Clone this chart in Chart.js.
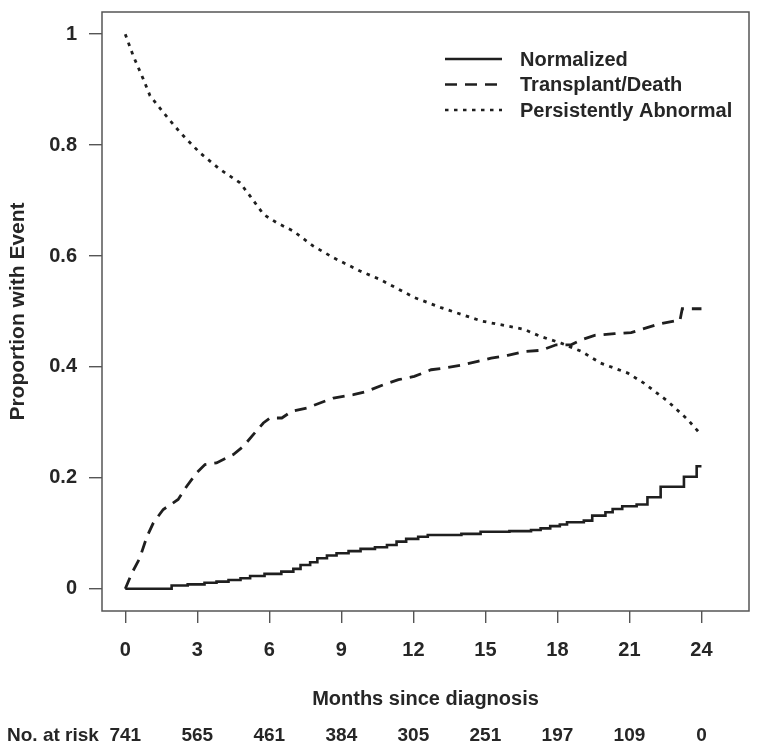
<!DOCTYPE html>
<html>
<head>
<meta charset="utf-8">
<script src="https://cdn.jsdelivr.net/npm/chart.js@4.4.1/dist/chart.umd.min.js"></script>
<style>
    html, body { margin: 0; padding: 0; background: #ffffff; }
    canvas { display: block; }
</style>
</head>
<body>
<canvas id="kmChart" width="762" height="756"></canvas>
<script>
// Axis ticks
const xTickValues = [0, 3, 6, 9, 12, 15, 18, 21, 24];
const yTickValues = [0, 0.2, 0.4, 0.6, 0.8, 1];

// Number at risk under each x tick
const atRisk = [741, 565, 461, 384, 305, 251, 197, 109, 0];

// Normalized (step function: value starts at that month)
const normMonths = [0, 1.93, 2.6, 3.3, 3.8, 4.3, 4.8, 5.2, 5.8, 6.5, 7.0, 7.3, 7.7, 8.0, 8.4, 8.8, 9.3, 9.8, 10.4, 10.9, 11.3, 11.7, 12.2, 12.6, 14.0, 14.8, 16.0, 16.9, 17.3, 17.7, 18.1, 18.4, 19.1, 19.45, 20.0, 20.3, 20.7, 21.3, 21.75, 22.3, 23.27, 23.8, 24.0];
const normValues = [0, 0.006, 0.008, 0.011, 0.013, 0.016, 0.019, 0.023, 0.027, 0.031, 0.036, 0.043, 0.048, 0.055, 0.06, 0.064, 0.068, 0.072, 0.075, 0.079, 0.085, 0.09, 0.094, 0.097, 0.099, 0.103, 0.104, 0.106, 0.109, 0.113, 0.116, 0.12, 0.123, 0.132, 0.138, 0.144, 0.149, 0.152, 0.165, 0.184, 0.202, 0.221, 0.221];

// Transplant/Death
const deathMonths = [0, 0.27, 0.6, 0.9, 1.17, 1.58, 2.2, 2.56, 2.97, 3.32, 3.8, 4.5, 4.92, 5.33, 5.75, 6.03, 6.52, 6.93, 7.56, 8.11, 8.67, 9.5, 10.06, 10.75, 11.38, 12.04, 12.74, 13.3, 13.99, 14.68, 15.24, 15.93, 16.63, 17.32, 17.95, 18.57, 19.0, 19.55, 20.38, 21.07, 21.6, 22.18, 22.88, 23.1, 23.2, 24.0];
const deathValues = [0, 0.028, 0.055, 0.094, 0.119, 0.143, 0.161, 0.185, 0.209, 0.224, 0.227, 0.242, 0.257, 0.278, 0.299, 0.308, 0.308, 0.32, 0.326, 0.335, 0.344, 0.35, 0.356, 0.368, 0.377, 0.383, 0.395, 0.398, 0.403, 0.41, 0.416, 0.421, 0.428, 0.43, 0.44, 0.44, 0.449, 0.457, 0.46, 0.462, 0.469, 0.477, 0.483, 0.483, 0.505, 0.505];

// Persistently Abnormal
const abnMonths = [0, 0.33, 0.75, 1.03, 1.58, 2.28, 3.11, 3.95, 4.78, 5.2, 5.76, 6.31, 7.0, 7.83, 8.67, 9.78, 10.6, 12.05, 13.15, 14.82, 16.6, 17.3, 18.15, 19.0, 19.8, 20.93, 21.6, 22.6, 23.43, 23.92];
const abnValues = [1, 0.961, 0.919, 0.889, 0.859, 0.823, 0.786, 0.756, 0.732, 0.708, 0.675, 0.66, 0.645, 0.618, 0.597, 0.573, 0.558, 0.525, 0.507, 0.483, 0.468, 0.455, 0.443, 0.428, 0.407, 0.389, 0.371, 0.338, 0.305, 0.281];

const seriesNames = ['Normalized', 'Transplant/Death', 'Persistently Abnormal'];
const seriesDash = [[], [12, 8], [3.5, 5.5]];

const inkColor = '#1f1f1f';
const textColor = '#262626';
const fontFamily = '"Liberation Sans", Arial, Helvetica, sans-serif';

function toPoints(xs, ys) {
    return xs.map((x, i) => ({ x: x, y: ys[i] }));
}

// Keep the plot box where it is: no extra room for edge labels
function noEdgePadding(scale) {
    scale.paddingTop = 0;
    scale.paddingBottom = 0;
    scale.paddingLeft = 0;
    scale.paddingRight = 0;
}

// Box, legend, axis titles and at-risk table
const extrasPlugin = {
    id: 'extras',
    afterDraw(chart) {
        const ctx = chart.ctx;
        const area = chart.chartArea;
        const xScale = chart.scales.x;
        ctx.save();

        // plot frame
        ctx.strokeStyle = '#555555';
        ctx.lineWidth = 1.5;
        ctx.setLineDash([]);
        ctx.strokeRect(area.left, area.top, area.right - area.left, area.bottom - area.top);

        // legend
        ctx.strokeStyle = inkColor;
        ctx.lineWidth = 2.6;
        ctx.fillStyle = textColor;
        ctx.font = 'bold 20px ' + fontFamily;
        ctx.textAlign = 'left';
        ctx.textBaseline = 'middle';
        const rowY = [59, 84.5, 110];
        seriesNames.forEach((name, i) => {
            ctx.setLineDash(seriesDash[i]);
            ctx.beginPath();
            ctx.moveTo(445, rowY[i]);
            ctx.lineTo(502, rowY[i]);
            ctx.stroke();
            ctx.fillText(name, 520, rowY[i] + 1);
        });
        ctx.setLineDash([]);

        // y axis title
        ctx.save();
        ctx.translate(18, (area.top + area.bottom) / 2);
        ctx.rotate(-Math.PI / 2);
        ctx.textAlign = 'center';
        ctx.font = 'bold 21px ' + fontFamily;
        ctx.fillText('Proportion with Event', 0, 0);
        ctx.restore();

        // x axis title
        ctx.textAlign = 'center';
        ctx.font = 'bold 20px ' + fontFamily;
        ctx.fillText('Months since diagnosis', (area.left + area.right) / 2, 699);

        // number at risk
        ctx.font = 'bold 19px ' + fontFamily;
        ctx.textAlign = 'left';
        ctx.fillText('No. at risk', 7, 736);
        ctx.textAlign = 'center';
        atRisk.forEach((n, i) => {
            ctx.fillText(String(n), xScale.getPixelForValue(xTickValues[i]), 736);
        });

        ctx.restore();
    }
};

new Chart(document.getElementById('kmChart'), {
    type: 'scatter',
    data: {
        datasets: [
            {
                label: seriesNames[0],
                data: toPoints(normMonths, normValues),
                showLine: true,
                stepped: 'before',
                borderColor: inkColor,
                borderWidth: 2.6,
                borderDash: seriesDash[0],
                pointRadius: 0,
                fill: false
            },
            {
                label: seriesNames[1],
                data: toPoints(deathMonths, deathValues),
                showLine: true,
                borderColor: inkColor,
                borderWidth: 2.8,
                borderDash: seriesDash[1],
                pointRadius: 0,
                fill: false
            },
            {
                label: seriesNames[2],
                data: toPoints(abnMonths, abnValues),
                showLine: true,
                borderColor: inkColor,
                borderWidth: 2.8,
                borderDash: seriesDash[2],
                pointRadius: 0,
                fill: false
            }
        ]
    },
    options: {
        responsive: false,
        animation: false,
        layout: {
            padding: { top: 12, right: 13, left: 0, bottom: 0 }
        },
        plugins: {
            legend: { display: false },
            tooltip: { enabled: false }
        },
        scales: {
            x: {
                type: 'linear',
                min: -0.97,
                max: 25.98,
                afterBuildTicks: (scale) => {
                    scale.ticks = xTickValues.map(v => ({ value: v }));
                },
                afterFit: (scale) => {
                    scale.height = 145;
                    noEdgePadding(scale);
                },
                grid: {
                    drawOnChartArea: false,
                    drawTicks: true,
                    tickLength: 12,
                    color: '#555555',
                    lineWidth: 1.4
                },
                border: { display: false },
                ticks: {
                    padding: 15,
                    maxRotation: 0,
                    autoSkip: false,
                    color: textColor,
                    font: { family: fontFamily, size: 20, weight: 'bold' },
                    callback: (value) => String(value)
                }
            },
            y: {
                type: 'linear',
                min: -0.04,
                max: 1.04,
                afterBuildTicks: (scale) => {
                    scale.ticks = yTickValues.map(v => ({ value: v }));
                },
                afterFit: (scale) => {
                    scale.width = 102;
                    noEdgePadding(scale);
                },
                grid: {
                    drawOnChartArea: false,
                    drawTicks: true,
                    tickLength: 13,
                    color: '#555555',
                    lineWidth: 1.4
                },
                border: { display: false },
                ticks: {
                    padding: 12,
                    autoSkip: false,
                    color: textColor,
                    font: { family: fontFamily, size: 20, weight: 'bold' },
                    callback: (value) => String(value)
                }
            }
        }
    },
    plugins: [extrasPlugin]
});
</script>
</body>
</html>
